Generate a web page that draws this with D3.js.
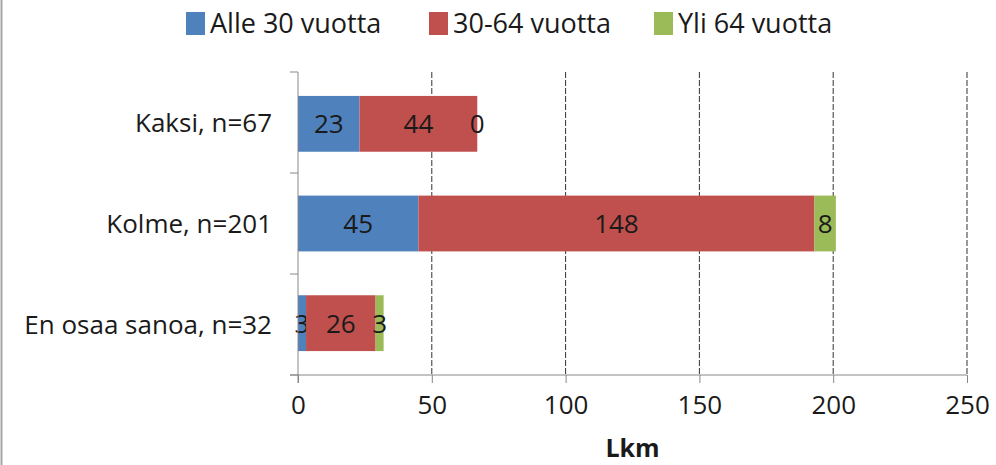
<!DOCTYPE html>
<html>
<head>
<meta charset="utf-8">
<style>
  body { margin: 0; background: #fff; }
  svg { display: block; font-family: "Open Sans", "Noto Sans", sans-serif; }
</style>
</head>
<body>
<svg width="996" height="465"></svg>
<script src="https://d3js.org/d3.v7.min.js"></script>
<script>
// categories (top to bottom)
var categories = ["Kaksi, n=67", "Kolme, n=201", "En osaa sanoa, n=32"];
var seriesNames = ["Alle 30 vuotta", "30-64 vuotta", "Yli 64 vuotta"];
var under30 = [23, 45, 3];
var mid = [44, 148, 26];
var over64 = [0, 8, 3];
var xTicks = [0, 50, 100, 150, 200, 250];
var colors = ["#4F81BD", "#C0504D", "#9BBB59"];

var svg = d3.select("svg");
var margin = { left: 298, right: 29, top: 72, bottom: 90 };
var width = 996, height = 465;

var x = d3.scaleLinear().domain([0, 250]).range([margin.left, width - margin.right]);
var y = d3.scaleBand().domain(categories).range([margin.top, height - margin.bottom]).paddingInner(0.44).paddingOuter(0.24);
var yb = d3.scaleBand().domain(categories).range([margin.top, height - margin.bottom]);

// frame left edge
svg.append("line").attr("x1", 1.5).attr("x2", 1.5).attr("y1", 0).attr("y2", height)
  .attr("stroke", "#a6a6a6").attr("stroke-width", 2);

// gridlines
svg.append("g").selectAll("line").data(xTicks.slice(1)).enter().append("line")
  .attr("x1", function(d) { return x(d); }).attr("x2", function(d) { return x(d); })
  .attr("y1", margin.top).attr("y2", height - margin.bottom)
  .attr("stroke", "#333").attr("stroke-width", 1).attr("stroke-dasharray", "6,2");

// stacked data
var rows = categories.map(function(c, i) {
  return { cat: c, vals: [under30[i], mid[i], over64[i]] };
});

var bars = svg.append("g");
rows.forEach(function(r) {
  var acc = 0;
  r.vals.forEach(function(v, j) {
    var x0 = acc; acc += v;
    bars.append("rect")
      .attr("x", x(x0)).attr("width", x(acc) - x(x0))
      .attr("y", y(r.cat)).attr("height", y.bandwidth())
      .attr("fill", colors[j]);
    bars.append("text")
      .attr("x", (x(x0) + x(acc)) / 2).attr("y", y(r.cat) + y.bandwidth() / 2)
      .attr("dy", "0.36em").attr("text-anchor", "middle")
      .attr("font-size", 26).attr("fill", "#1a1a1a")
      .text(v);
  });
});

// x axis
var xAxis = svg.append("g").attr("transform", "translate(0," + (height - margin.bottom) + ")")
  .call(d3.axisBottom(x).tickValues(xTicks).tickSize(8).tickPadding(13).tickSizeOuter(0));
xAxis.select(".domain").attr("stroke", "#888").attr("d", "M" + (margin.left - 8) + ",0H" + (width - margin.right));
xAxis.selectAll(".tick line").attr("stroke", "#888");
xAxis.selectAll("text").attr("font-size", 26).attr("fill", "#1a1a1a").attr("font-family", "\"Open Sans\", sans-serif");

// y axis
var yAxis = svg.append("g").attr("transform", "translate(" + margin.left + ",0)");
yAxis.append("line").attr("x1", 0).attr("x2", 0).attr("y1", margin.top).attr("y2", height - margin.bottom + 8).attr("stroke", "#888");
yAxis.selectAll(".yt").data([margin.top].concat(categories.map(function(c) { return yb(c) + yb.bandwidth(); })))
  .enter().append("line").attr("class", "yt")
  .attr("x1", -8).attr("x2", 0).attr("y1", function(d) { return d; }).attr("y2", function(d) { return d; })
  .attr("stroke", "#888");
yAxis.selectAll("text").data(categories).enter().append("text")
  .attr("x", -26).attr("y", function(d) { return yb(d) + yb.bandwidth() / 2; })
  .attr("dy", "0.36em").attr("text-anchor", "end").attr("font-size", 26).attr("fill", "#1a1a1a")
  .text(function(d) { return d; });

// axis title
svg.append("text").attr("x", x(125)).attr("y", 457).attr("text-anchor", "middle")
  .attr("font-size", 25).attr("font-weight", "bold").attr("fill", "#1a1a1a").text("Lkm");

// legend
var legendX = [186, 429, 654];
var lg = svg.append("g");
seriesNames.forEach(function(s, i) {
  lg.append("rect").attr("x", legendX[i]).attr("y", 12).attr("width", 19).attr("height", 23).attr("fill", colors[i]);
  lg.append("text").attr("x", legendX[i] + 24).attr("y", 23).attr("dy", "0.36em")
    .attr("font-size", 27).attr("fill", "#1a1a1a").text(s);
});
</script>
</body>
</html>
